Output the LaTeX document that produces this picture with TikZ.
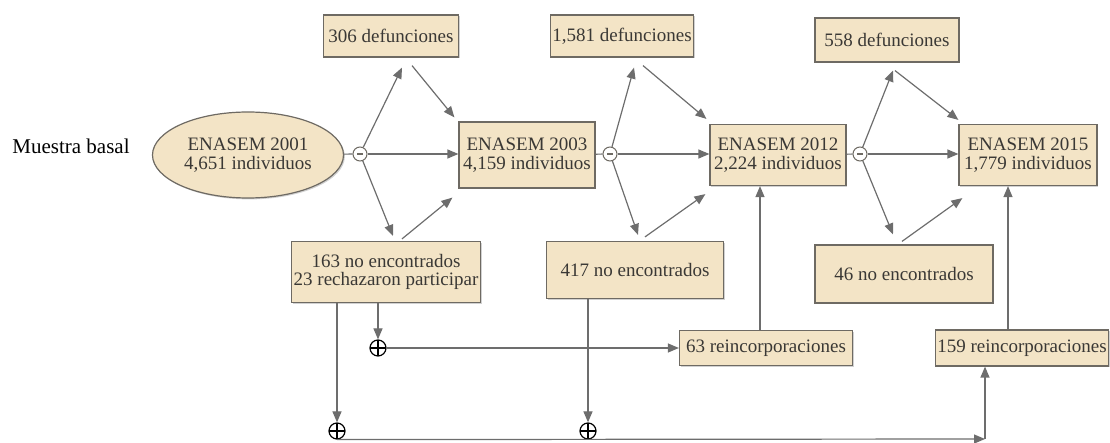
\documentclass[tikz,border=0pt]{standalone}
\usepackage{fontspec}
\setmainfont{Liberation Serif}
\usetikzlibrary{arrows.meta,shapes.geometric,calc,shadows}

\definecolor{boxfill}{HTML}{F3E4C6}
\definecolor{boxline}{HTML}{6E6A63}
\definecolor{boxtext}{HTML}{3A3835}
\definecolor{flowline}{HTML}{6D6D6D}

\begin{document}
\begin{tikzpicture}[x=0.5pt, y=-0.5pt, >={Triangle[length=5.5pt,width=4.5pt]}, line width=0.6pt,
    wavebox/.style={rectangle, draw=boxline, fill=boxfill, text=boxtext, inner sep=1pt, align=center,
        font=\fontsize{9.5}{9.25}\selectfont,
        drop shadow={shadow xshift=0.7pt, shadow yshift=-0.7pt, fill=black, opacity=0.18}},
    subnode/.style={circle, draw=boxline, fill=white, line width=0.5pt, minimum size=7pt, inner sep=0pt,
        path picture={\draw [line width=0.7pt] ([xshift=-1.4pt]path picture bounding box.center)
            -- ([xshift=1.4pt]path picture bounding box.center);}},
    addnode/.style={circle, draw=black, fill=white, line width=0.6pt, minimum size=8pt, inner sep=0pt,
        path picture={\draw (path picture bounding box.north) -- (path picture bounding box.south)
            (path picture bounding box.west) -- (path picture bounding box.east);}},
    basetext/.style={font=\fontsize{10.5}{12}\selectfont, text=black}]
    \useasboundingbox (0,0) rectangle (1110,443);

    % Nodes {basal, e01, e03, e12, e15, etc}
    \node [basetext]                                              (basal) at (71,146)   {Muestra basal};
    \node [wavebox, ellipse, minimum width=95.5pt, minimum height=43pt] (e01) at (248,155) {ENASEM 2001\\4,651 individuos};
    \node [subnode]                                               (m1)  at (360,154)  {};
    \node [wavebox, minimum width=67.5pt, minimum height=21pt]    (d1)  at (391,36)   {306 defunciones};
    \node [wavebox, minimum width=68pt, minimum height=33pt]      (e03) at (527,155)  {ENASEM 2003\\4,159 individuos};
    \node [wavebox, minimum width=94.5pt, minimum height=30.5pt]  (n1)  at (386,272)  {163 no encontrados\\23 rechazaron participar};
    \node [subnode]                                               (m2)  at (610,154)  {};
    \node [wavebox, minimum width=71.5pt, minimum height=21pt]    (d2)  at (622,36)   {1,581 defunciones};
    \node [wavebox, minimum width=68pt, minimum height=30.5pt]    (e12) at (778,155)  {ENASEM 2012\\2,224 individuos};
    \node [wavebox, minimum width=88.5pt, minimum height=28.5pt]  (n2)  at (635,270)  {417 no encontrados};
    \node [subnode]                                               (m3)  at (860,154)  {};
    \node [wavebox, minimum width=72pt, minimum height=22pt]      (d3)  at (887,40)   {558 defunciones};
    \node [wavebox, minimum width=69pt, minimum height=30.5pt]    (e15) at (1028,155) {ENASEM 2015\\1,779 individuos};
    \node [wavebox, minimum width=89pt, minimum height=29pt]      (n3)  at (904,274)  {46 no encontrados};
    \node [wavebox, minimum width=86.5pt, minimum height=17.5pt]  (r1)  at (766,348)  {63 reincorporaciones};
    \node [wavebox, minimum width=85.5pt, minimum height=18pt]    (r2)  at (1022,348) {159 reincorporaciones};
    \node [addnode]                                               (p1)  at (378,348)  {};
    \node [addnode]                                               (p2)  at (337,431)  {};
    \node [addnode]                                               (p3)  at (588,431)  {};
    \coordinate (c) at (985,439);

    % Paths
    \begin{scope}[draw=flowline, fill=flowline]
    \draw       (e01) -- (m1);
    \draw [->]  (m1) -- ($(d1.south)+(11,10)$);
    \draw [->]  ($(d1.south)+(21,8)$) -- ($(e03.north west)+(-4,-4)$);
    \draw [->]  (m1) -- (m1 -| e03.west);
    \draw [->]  (m1) -- ($(n1.north)+(7,-5)$);
    \draw [->]  ($(n1.north)+(16,-2)$) -- ($(e03.south west)+(-6,9)$);
    \draw [->]  (n1.south -| p1) -- (p1);
    \draw [->]  (n1.south -| p2) -- (p2);
    \draw [->]  (p1) -- (r1);
    \draw [->]  ([xshift=-3pt]r1.north) -- ([xshift=-3pt]r1.north |- e12.south);

    \draw       (e03) -- (m2);
    \draw [->]  (m2) -- ($(d2.south)+(12,10)$);
    \draw [->]  ($(d2.south)+(21,8)$) -- ($(e12.north west)+(-3,-5)$);
    \draw [->]  (m2) -- (m2 -| e12.west);
    \draw [->]  (m2) -- ($(n2.north)+(3,-6)$);
    \draw [->]  ($(n2.north)+(10,-4)$) -- ($(e12.south west)+(-4,8)$);
    \draw [->]  (n2.south -| p3) -- (p3);

    \draw       (e12) -- (m3);
    \draw [->]  (m3) -- ($(d3.south)+(6,8)$);
    \draw [->]  ($(d3.south)+(8,8)$) -- ($(e15.north west)+(0,-4)$);
    \draw [->]  (m3) -- (m3 -| e15.west);
    \draw [->]  (m3) -- ($(n3.north)+(-11,-10)$);
    \draw [->]  ($(n3.north)+(-2,-3)$) -- ($(e15.south west)+(4,12)$);
    \draw [->]  ([xshift=-7pt]r2.north) -- ([xshift=-7pt]r2.north |- e15.south);

    \draw [->]  (p2.south) -- (c);
    \draw [->]  (c) -- (c |- r2.south);
    \end{scope}
\end{tikzpicture}
\end{document}
